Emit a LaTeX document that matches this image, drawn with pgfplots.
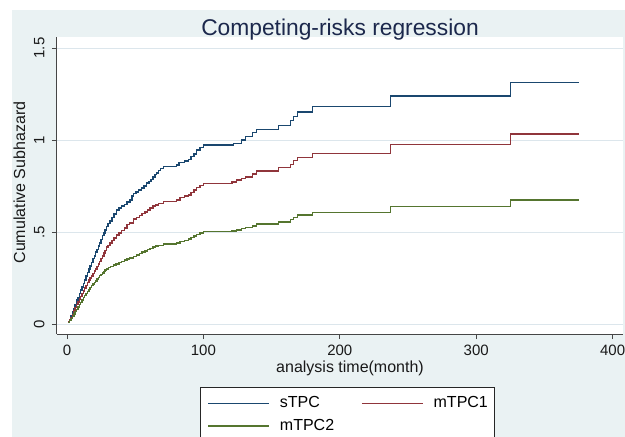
\documentclass[border=0pt]{standalone}
\usepackage{fontspec}
\setmainfont{Liberation Sans}
\usepackage{pgfplots}
\pgfplotsset{compat=1.18}
\definecolor{bgc}{RGB}{234,242,243}
\definecolor{gridc}{RGB}{220,230,236}
\definecolor{stnavy}{RGB}{26,71,111}
\definecolor{stmaroon}{RGB}{144,53,59}
\definecolor{stgreen}{RGB}{85,117,47}
\definecolor{titlec}{RGB}{28,40,76}
\definecolor{axc}{RGB}{70,70,70}
\begin{document}
\begin{tikzpicture}[x=1pt,y=1pt]
\useasboundingbox (0,0) rectangle (625,437);
\fill[white] (0,0) rectangle (625,437);
\fill[bgc] (12,0) rectangle (625,427);
\begin{axis}[
  at={(57pt,103pt)}, anchor=south west,
  scale only axis, width=566pt, height=297pt,
  xmin=-7.33, xmax=407.6, ymin=-0.0543, ymax=1.5598,
  axis background/.style={fill=white},
  axis x line*=bottom, axis y line*=left,
  axis line style={axc, line width=1pt},
  xtick={0,100,200,300,400},
  ytick={0,0.5,1,1.5}, yticklabels={0,.5,1,1.5},
  tick align=outside, major tick length=5pt,
  tick style={axc, line width=0.8pt},
  ymajorgrids, grid style={gridc, line width=0.8pt},
  /pgf/number format/assume math mode=true,
  ticklabel style={font=\fontsize{15}{15}\selectfont, text=black!90},
  xticklabel style={anchor=north, inner sep=0pt, yshift=-6pt},
  yticklabel style={rotate=90, anchor=base, inner sep=0pt, yshift=7.5pt},
  title={Competing-risks regression},
  title style={at={(0.5,1.0034)}, anchor=base, yshift=-6pt, font=\fontsize{22.8}{24}\selectfont, text=titlec},
  xlabel={analysis time(month)},
  xlabel style={at={(0.5177,-0.128)}, anchor=base, font=\fontsize{16}{16}\selectfont, text=black!90},
  ylabel={Cumulative Subhazard},
  ylabel style={at={(-0.0565,0.510)}, anchor=base, font=\fontsize{16}{16}\selectfont, text=black!90},
  legend columns=2,
  legend cell align=left,
  legend image code/.code={\draw[#1, line width=1.5pt] (0pt,-1.5pt) -- (61pt,-1.5pt);},
  legend style={at={(0.2527,-0.1785)}, anchor=north west, draw=black!85, line width=0.8pt, fill=white,
    inner xsep=7pt, inner ysep=9pt, font=\fontsize{16}{16}\selectfont, row sep=10.8pt,
    nodes={inner sep=0pt, text height=11.5pt, text depth=0pt},
    /tikz/every even column/.append style={column sep=27pt},
    /tikz/every odd column/.append style={column sep=10pt}},
]
\addplot[const plot, stnavy, line width=1.5pt] coordinates {
(1.0,0.010) (2.0,0.025) (3.0,0.045) (4.0,0.065) (5.0,0.085) (6.0,0.105) (7.0,0.130) (8.0,0.145)
(9.0,0.165) (10.0,0.185) (11.0,0.200) (12.0,0.220) (13.0,0.240) (14.0,0.260) (15.0,0.280)
(16.0,0.300) (17.0,0.315) (18.0,0.335) (19.0,0.355) (20.0,0.370) (21.0,0.390) (22.0,0.405)
(23.0,0.425) (24.0,0.440) (25.0,0.460) (26.0,0.480) (27.0,0.495) (28.0,0.510) (29.0,0.530)
(30.0,0.547) (31.5,0.560) (33.0,0.580) (34.5,0.598) (36.4,0.620) (38.0,0.630) (40.0,0.640)
(42.0,0.650) (44.0,0.662) (46.2,0.675) (47.5,0.695) (48.6,0.710) (50.5,0.718) (52.5,0.728)
(54.5,0.738) (56.5,0.750) (58.4,0.765) (60.0,0.775) (61.5,0.785) (63.0,0.800) (64.5,0.812)
(65.7,0.822) (67.0,0.835) (68.5,0.845) (70.6,0.855) (80.4,0.865) (82.0,0.878) (86.0,0.885)
(89.0,0.895) (91.0,0.910) (93.0,0.925) (95.0,0.945) (97.5,0.960) (100.0,0.973) (122.0,0.982)
(128.0,1.000) (131.0,1.020) (136.0,1.040) (139.0,1.057) (155.0,1.079) (164.0,1.105)
(166.0,1.127) (169.0,1.152) (180.0,1.181) (237.3,1.239) (325.3,1.313) (375.4,1.313)
};
\addlegendentry{sTPC}
\addplot[const plot, stmaroon, line width=1.5pt] coordinates {
(1.0,0.010) (2.0,0.022) (3.0,0.036) (4.0,0.050) (5.0,0.070) (6.0,0.090) (7.0,0.105) (8.0,0.120)
(9.0,0.135) (10.0,0.150) (11.0,0.165) (12.0,0.180) (13.0,0.195) (14.0,0.210) (15.0,0.225)
(16.0,0.240) (17.0,0.250) (18.0,0.262) (19.0,0.275) (20.0,0.287) (21.0,0.300) (22.0,0.312)
(23.0,0.326) (24.0,0.340) (25.0,0.355) (26.0,0.370) (27.0,0.385) (28.0,0.400) (29.0,0.418)
(30.0,0.428) (31.5,0.440) (33.0,0.455) (34.5,0.468) (36.4,0.484) (38.0,0.495) (40.0,0.508)
(42.0,0.522) (44.0,0.540) (46.0,0.550) (48.6,0.570) (51.0,0.580) (53.0,0.590) (55.0,0.600)
(57.0,0.610) (59.0,0.620) (61.0,0.630) (63.0,0.640) (65.0,0.648) (67.0,0.656) (70.6,0.665)
(80.4,0.675) (83.0,0.688) (86.0,0.695) (89.0,0.702) (91.0,0.715) (93.0,0.728) (95.0,0.742)
(97.5,0.752) (100.0,0.764) (121.0,0.773) (124.4,0.783) (128.0,0.790) (131.0,0.800)
(136.0,0.815) (139.0,0.832) (155.0,0.850) (164.0,0.868) (166.0,0.888) (169.0,0.906)
(180.0,0.927) (237.3,0.975) (325.3,1.033) (375.4,1.033)
};
\addlegendentry{mTPC1}
\addplot[const plot, stgreen, line width=1.5pt] coordinates {
(1.0,0.008) (2.0,0.018) (3.0,0.030) (4.0,0.042) (5.0,0.055) (6.0,0.068) (7.0,0.080) (8.0,0.093)
(9.0,0.105) (10.0,0.118) (11.0,0.130) (12.0,0.145) (13.0,0.155) (14.0,0.166) (15.0,0.177)
(16.0,0.188) (17.0,0.198) (18.0,0.208) (19.0,0.217) (20.0,0.226) (21.0,0.235) (22.0,0.245)
(23.0,0.254) (24.0,0.263) (25.0,0.270) (26.0,0.278) (27.0,0.285) (28.0,0.293) (29.0,0.300)
(30.5,0.306) (32.0,0.313) (34.0,0.320) (36.0,0.326) (38.0,0.333) (40.0,0.340) (42.0,0.347)
(44.0,0.354) (46.0,0.360) (48.6,0.368) (51.0,0.376) (53.0,0.383) (55.0,0.390) (57.0,0.397)
(59.0,0.404) (61.0,0.411) (63.0,0.418) (65.0,0.424) (67.0,0.428) (70.6,0.434) (80.4,0.440)
(83.0,0.448) (86.0,0.455) (89.0,0.462) (91.0,0.470) (93.0,0.478) (95.0,0.486) (97.5,0.494)
(100.0,0.502) (121.0,0.505) (124.4,0.512) (128.0,0.520) (131.0,0.524) (136.0,0.533)
(139.0,0.543) (155.0,0.554) (164.0,0.569) (166.0,0.580) (169.0,0.592) (180.0,0.607)
(237.3,0.638) (325.3,0.674) (375.4,0.674)
};
\addlegendentry{mTPC2}
\end{axis}
\end{tikzpicture}
\end{document}
